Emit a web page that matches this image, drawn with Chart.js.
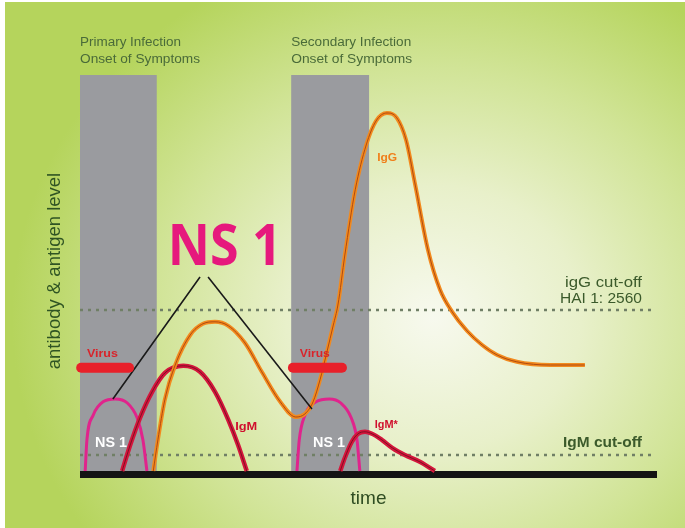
<!DOCTYPE html>
<html><head><meta charset="utf-8">
<script src="https://cdn.jsdelivr.net/npm/chart.js@4/dist/chart.umd.min.js"></script>
<style>
html,body{margin:0;padding:0;background:#fff;}
#wrap{position:relative;width:685px;height:528px;overflow:hidden;background:#fff;}
#bg{position:absolute;left:5px;top:2px;right:0;bottom:0;
 background:radial-gradient(ellipse 62% 72% at 63% 60%, #f7f9ee 0%, #e8f0ca 35%, #d1e497 66%, #b5d45c 100%);}
canvas{position:absolute;left:0;top:0;}
</style></head><body>
<div id="wrap"><div id="bg"></div><canvas id="c" width="685" height="528"></canvas></div>
<script>
// ---- data (time units 0..100, level units 0..100) ----
const symptomBands = [[0, 13.3], [36.6, 50.1]];
const bandTopLevel = 99;
const ns1Primary = [[0.9,0],[1.2,7.8],[2.3,14],[4.0,17.3],[6.1,18],[8.2,17],[9.9,13.3],[10.9,7.8],[11.6,0]];
const ns1Secondary = [[37.6,0],[38.0,7.8],[39.0,14],[40.9,17.3],[43.2,18],[45.2,17],[47.0,13.3],[48.0,7.8],[48.5,0]];
const igmPrimary = [[7.3,0],[8.7,6.5],[10.4,13.3],[12.5,19.8],[14.7,24.5],[17.9,26.3],[20.8,24.8],[23.4,19.8],[25.7,12.8],[27.4,6.5],[28.9,0]];
const igmSecondary = [[45.1,0],[45.9,3.3],[47.1,7.3],[48.2,9.3],[49.4,9.8],[50.6,9.3],[52.3,7.8],[54.1,5.8],[56.3,4],[58.9,2.3],[61.5,0]];
const iggLevels = [[12.7,0],[13.5,7.8],[14.7,17.8],[16.5,26.5],[19.1,34],[21.3,36.8],[23.4,37.3],[25.7,36.3],[28.6,32],[31.5,24.8],[34.7,17.3],[37.4,13.5],[39.0,14.3],[40.4,17.3],[41.6,22.8],[42.8,29.8],[43.9,36.5],[44.7,41.5],[45.9,54],[47.7,70.3],[49.6,81.5],[51.3,87.5],[53.2,89.5],[54.9,88.3],[56.5,82.8],[58.1,71.5],[60.3,55.3],[62.4,45.3],[64.5,39.8],[67.1,35],[69.7,31.5],[72.3,29],[75.7,27.3],[81.5,26.5],[87.5,26.5]];
const virusPrimary = [[0.2,25.8],[8.5,25.8]];
const virusSecondary = [[36.9,25.8],[45.4,25.8]];
const pointerLeft = [[20.8,48.5],[5.7,18]];
const pointerRight = [[22.2,48.5],[40.2,15.5]];
const iggCutoffLevel = 40.25;
const igmCutoffLevel = 4;
const cutoffSpan = [0, 99.5];
const baselineLevel = -0.9;
const axisSpan = [0, 100];

// ---- labels ----
const phaseLabels = ['Primary Infection', 'Onset of Symptoms', 'Secondary Infection', 'Onset of Symptoms'];
const cutoffLabels = ['igG cut-off', 'HAI 1: 2560', 'IgM cut-off'];
const markerLabels = ['NS 1', 'Virus', 'Virus', 'NS 1', 'NS 1', 'IgM', 'IgM*', 'IgG'];
const axisTitles = ['time', 'antibody & antigen level'];

const pts = a => a.map(([x, y]) => ({x, y}));
const line = (data, color, width, order, extra) => Object.assign({
  data: pts(data), borderColor: color, borderWidth: width, pointRadius: 0,
  fill: false, order, clip: false, cubicInterpolationMode: 'monotone', tension: 0
}, extra || {});

const textItems = [
  {text: phaseLabels[0], t: 0, L: 106.3, font: '12.5px "Liberation Sans"', color: '#4a6b39', align: 'left', w: 101},
  {text: phaseLabels[1], t: 0, L: 102, font: '12.5px "Liberation Sans"', color: '#4a6b39', align: 'left', w: 120},
  {text: phaseLabels[2], t: 36.6, L: 106.3, font: '12.5px "Liberation Sans"', color: '#4a6b39', align: 'left', w: 120},
  {text: phaseLabels[3], t: 36.6, L: 102, font: '12.5px "Liberation Sans"', color: '#4a6b39', align: 'left', w: 121},
  {text: cutoffLabels[0], t: 97.4, L: 46, font: '14px "Liberation Sans"', color: '#3b5a2b', align: 'right', w: 77},
  {text: cutoffLabels[1], t: 97.4, L: 42, font: '14px "Liberation Sans"', color: '#3b5a2b', align: 'right', w: 82},
  {text: cutoffLabels[2], t: 97.4, L: 6, font: 'bold 14px "Liberation Sans"', color: '#3b5a2b', align: 'right', w: 79},
  {text: markerLabels[0], t: 15.2, L: 51.5, font: 'bold 58px "Open Sans"', color: '#e6197d', align: 'left', w: 114},
  {text: markerLabels[1], t: 1.2, L: 28.5, font: 'bold 11px "Liberation Sans"', color: '#d9242b', align: 'left', w: 31},
  {text: markerLabels[2], t: 38.1, L: 28.5, font: 'bold 11px "Liberation Sans"', color: '#d9242b', align: 'left', w: 30},
  {text: markerLabels[3], t: 2.6, L: 6, font: 'bold 15px "Liberation Sans"', color: '#ffffff', align: 'left', w: 32},
  {text: markerLabels[4], t: 40.4, L: 6, font: 'bold 15px "Liberation Sans"', color: '#ffffff', align: 'left', w: 32},
  {text: markerLabels[5], t: 26.9, L: 10.3, font: 'bold 11px "Liberation Sans"', color: '#d0102e', align: 'left', w: 22},
  {text: markerLabels[6], t: 51.1, L: 10.8, font: 'bold 10px "Liberation Sans"', color: '#d0102e', align: 'left', w: 23},
  {text: markerLabels[7], t: 51.5, L: 77.5, font: 'bold 11px "Liberation Sans"', color: '#f07f1a', align: 'left', w: 20}
];

const overlay = {
  id: 'overlay',
  beforeDatasetsDraw(chart) {
    const {ctx, scales: {x, y}} = chart;
    ctx.save();
    ctx.fillStyle = '#9a9b9f';
    symptomBands.forEach(([a, b]) => {
      const x0 = x.getPixelForValue(a), x1 = x.getPixelForValue(b);
      const y0 = y.getPixelForValue(bandTopLevel), y1 = y.getPixelForValue(0);
      ctx.fillRect(x0, y0, x1 - x0, y1 - y0);
    });
    ctx.restore();
  },
  afterDatasetsDraw(chart) {
    const {ctx, scales: {x, y}} = chart;
    textItems.forEach(it => {
      ctx.save();
      ctx.font = it.font;
      ctx.fillStyle = it.color;
      ctx.textBaseline = 'alphabetic';
      const m = ctx.measureText(it.text).width;
      const sx = it.w / m;
      const px = x.getPixelForValue(it.t), py = y.getPixelForValue(it.L);
      ctx.translate(px, py);
      ctx.scale(sx, 1);
      ctx.textAlign = it.align;
      ctx.fillText(it.text, 0, 0);
      ctx.restore();
    });
  }
};

const darkRed = '#6a0d1c';
new Chart(document.getElementById('c'), {
  type: 'line',
  data: {
    datasets: [
      line([[cutoffSpan[0], iggCutoffLevel], [cutoffSpan[1], iggCutoffLevel]], '#707f66', 2.5, 20, {borderDash: [3, 5]}),
      line([[cutoffSpan[0], igmCutoffLevel], [cutoffSpan[1] - 0.3, igmCutoffLevel]], '#707f66', 2.5, 20, {borderDash: [3, 5]}),
      line([[axisSpan[0], baselineLevel], [axisSpan[1], baselineLevel]], '#141414', 7, 19),
      line(ns1Primary, '#e0248c', 3, 8),
      line(ns1Secondary, '#e0248c', 3, 8),
      line(igmPrimary, '#d4163c', 4.5, 7),
      line(igmPrimary, darkRed, 0.8, 6),
      line(igmSecondary, '#d4163c', 4.5, 7),
      line(igmSecondary, darkRed, 0.8, 6),
      line(iggLevels, '#f28a1e', 4, 5),
      line(iggLevels, '#b04a10', 1, 4),
      line(pointerLeft, '#1a1a1a', 1.6, 3),
      line(pointerRight, '#1a1a1a', 1.6, 3),
      line(virusPrimary, '#e8202a', 10, 1, {borderCapStyle: 'round'}),
      line(virusSecondary, '#e8202a', 10, 1, {borderCapStyle: 'round'})
    ]
  },
  options: {
    responsive: false,
    animation: false,
    devicePixelRatio: 1,
    events: [],
    layout: {padding: {left: 36, right: 28, top: 71, bottom: 10}},
    plugins: {legend: {display: false}, tooltip: {enabled: false}},
    scales: {
      x: {type: 'linear', min: 0, max: 100, position: 'bottom',
        ticks: {display: false}, grid: {display: false, drawTicks: false}, border: {display: false},
        title: {display: true, text: axisTitles[0], color: '#2f4d22',
          font: {family: '"Liberation Sans"', size: 19, lineHeight: 1.2}, padding: {top: 16.6, bottom: 7.6}}},
      y: {type: 'linear', min: 0, max: 100, position: 'left',
        ticks: {display: false}, grid: {display: false, drawTicks: false}, border: {display: false},
        title: {display: true, text: axisTitles[1], color: '#2f5423',
          font: {family: '"Liberation Sans"', size: 18.5, lineHeight: 1.2}, padding: {top: 7.9, bottom: 13.9}}}
    }
  },
  plugins: [overlay]
});
</script>
</body></html>
